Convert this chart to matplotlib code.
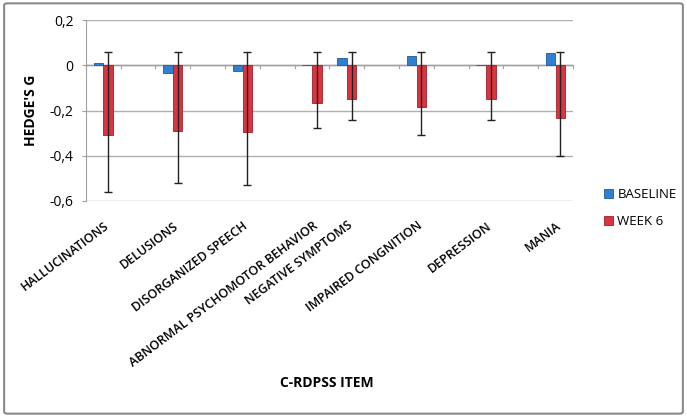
import matplotlib.pyplot as plt
from matplotlib.patches import FancyBboxPatch

# categories placed on a 14-slot axis (empty slots in between, as in the original sheet)
items = ['HALLUCINATIONS', 'DELUSIONS', 'DISORGANIZED SPEECH',
         'ABNORMAL PSYCHOMOTOR BEHAVIOR', 'NEGATIVE SYMPTOMS',
         'IMPAIRED CONGNITION', 'DEPRESSION', 'MANIA']
slots = [0, 2, 4, 6, 7, 9, 11, 13]

baseline = [0.012, -0.034, -0.027, 0.002, 0.032, 0.040, 0.003, 0.052]
week6 = [-0.308, -0.289, -0.293, -0.167, -0.151, -0.184, -0.151, -0.231]
err_low = [-0.56, -0.52, -0.53, -0.276, -0.241, -0.308, -0.241, -0.403]
err_high = [0.06, 0.06, 0.06, 0.06, 0.06, 0.06, 0.06, 0.06]

plt.rcParams['font.family'] = ['Open Sans', 'DejaVu Sans']

fig = plt.figure(figsize=(6.87, 4.17), dpi=100)
ax = fig.add_axes([0.125, 0.518, 0.709, 0.434])

w = 0.27
xb = [s - 0.14 for s in slots]
xr = [s + 0.14 for s in slots]
ax.bar(xb, baseline, w, color='#2f80d0', edgecolor='#1f5a98', linewidth=0.6,
       label='BASELINE', zorder=3)
ax.bar(xr, week6, w, color='#d9343f', edgecolor='#9c2030', linewidth=0.6,
       label='WEEK 6', zorder=3)
yerr = [[v - lo for v, lo in zip(week6, err_low)],
        [hi - v for v, hi in zip(week6, err_high)]]
ax.errorbar(xr, week6, yerr=yerr, fmt='none', ecolor='#222222', elinewidth=1,
            capsize=3, capthick=1, zorder=4)

ax.set_xlim(-0.5, 13.5)
ax.set_ylim(-0.6, 0.2)
ax.set_yticks([-0.6, -0.4, -0.2, 0, 0.2])
ax.set_yticklabels(['-0,6', '-0,4', '-0,2', '0', '0,2'], fontsize=10)
ax.yaxis.grid(True, color='#b0b0b0', linewidth=1, zorder=0)
ax.set_axisbelow(True)

for side in ['top', 'right', 'bottom']:
    ax.spines[side].set_visible(False)
ax.spines['left'].set_color('#a0a0a0')
ax.tick_params(axis='y', length=3, color='#a0a0a0', pad=6)

# category axis at zero with slot boundary ticks
ax.axhline(0, color='#a0a0a0', linewidth=1, zorder=2)
ax.set_xticks(slots)
ax.set_xticklabels(items, rotation=37, ha='right', rotation_mode='anchor',
                   fontsize=9, fontweight='semibold')
ax.tick_params(axis='x', length=0, pad=13)
for k in range(15):
    ax.plot([k - 0.5, k - 0.5], [-0.012, 0], color='#a0a0a0', lw=0.8,
            zorder=2, clip_on=False)

ax.set_ylabel("HEDGE'S G", fontsize=10, fontweight='bold', labelpad=8)
fig.text(0.476, 0.082, 'C-RDPSS ITEM', fontsize=10, fontweight='bold',
         ha='center', va='center')

leg = fig.legend(loc='upper left', bbox_to_anchor=(0.862, 0.578), frameon=False,
                 fontsize=9.5, handlelength=0.7, handleheight=0.7,
                 handletextpad=0.3, labelspacing=1.1)

fig.patches.append(FancyBboxPatch((0.006, 0.008), 0.988, 0.984,
                                  boxstyle='round,pad=0,rounding_size=0.005',
                                  transform=fig.transFigure, fill=False,
                                  edgecolor='#8a8a8a', linewidth=1.5))

fig.savefig('out.png', dpi=100)
